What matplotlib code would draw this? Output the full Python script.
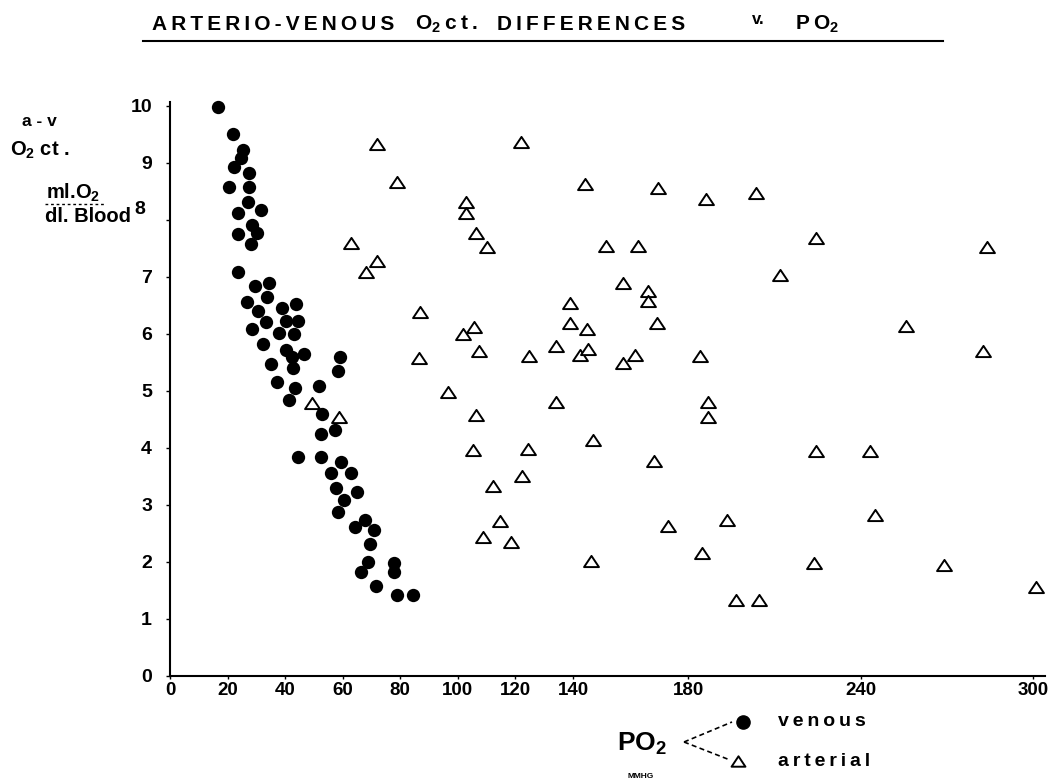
import matplotlib
matplotlib.use('Agg')
import matplotlib.pyplot as plt
from matplotlib.lines import Line2D
from matplotlib.path import Path

# venous PO2 (mmHg) and a-v O2 content difference (ml O2 / dl blood)
venous_po2 = [16.7, 21.9, 25.3, 24.6, 22.2, 27.4, 20.5, 27.4, 27.1, 31.6,
              23.6, 28.5, 30.2, 23.6, 28.1, 23.6, 29.5, 34.4, 33.7, 26.7,
              30.6, 38.9, 43.8, 33.3, 40.3, 44.4, 28.5, 37.8, 43.1, 32.3,
              40.3, 42.4, 46.5, 59.0, 35.1, 42.7, 58.3, 37.2, 43.4, 51.7,
              41.3, 52.8, 57.3, 52.4, 44.4, 52.4, 59.4, 55.9, 62.8, 57.6,
              64.9, 60.4, 58.3, 67.7, 64.2, 70.8, 69.4, 68.8, 77.8, 77.8,
              66.3, 71.5, 78.8, 84.4]
venous_avd = [9.98, 9.51, 9.23, 9.09, 8.93, 8.82, 8.58, 8.58, 8.32, 8.18,
              8.12, 7.91, 7.77, 7.75, 7.58, 7.09, 6.84, 6.89, 6.65, 6.56,
              6.40, 6.46, 6.53, 6.21, 6.23, 6.23, 6.09, 6.02, 6.00, 5.82,
              5.72, 5.60, 5.65, 5.60, 5.47, 5.40, 5.35, 5.16, 5.05, 5.09,
              4.84, 4.60, 4.32, 4.25, 3.84, 3.84, 3.75, 3.56, 3.56, 3.30,
              3.23, 3.09, 2.88, 2.74, 2.61, 2.56, 2.32, 2.00, 1.98, 1.82,
              1.82, 1.58, 1.42, 1.42]

# arterial PO2 (mmHg) and a-v O2 content difference
arterial_po2 = [71.9, 78.8, 62.8, 71.9, 68.1, 86.8, 86.5, 49.3, 58.7, 121.9,
                102.8, 102.8, 144.1, 169.4, 186.1, 203.5, 106.3, 110.1, 151.4, 162.5,
                224.3, 284.0, 211.8, 157.3, 166.0, 166.0, 138.9, 138.9, 169.1, 255.6,
                101.7, 105.6, 144.8, 134.0, 107.3, 124.7, 142.4, 145.1, 161.5, 157.3,
                184.0, 282.3, 96.5, 134.0, 186.8, 186.8, 106.3, 146.9, 124.3, 105.2,
                224.3, 243.1, 168.1, 112.2, 122.2, 114.6, 108.7, 118.4, 172.9, 193.4,
                245.1, 184.7, 146.2, 223.6, 268.8, 196.5, 204.5, 301.0]
arterial_avd = [9.33, 8.67, 7.60, 7.28, 7.09, 6.39, 5.58, 4.79, 4.54, 9.37,
                8.32, 8.12, 8.63, 8.56, 8.37, 8.47, 7.77, 7.53, 7.54, 7.54,
                7.68, 7.53, 7.04, 6.89, 6.75, 6.58, 6.54, 6.19, 6.19, 6.14,
                6.00, 6.12, 6.09, 5.79, 5.70, 5.61, 5.63, 5.74, 5.63, 5.49,
                5.61, 5.70, 4.98, 4.81, 4.81, 4.54, 4.58, 4.14, 3.98, 3.96,
                3.95, 3.95, 3.77, 3.33, 3.51, 2.72, 2.44, 2.35, 2.63, 2.74,
                2.82, 2.16, 2.02, 1.98, 1.95, 1.33, 1.33, 1.56]

x_ticks = [0, 20, 40, 60, 80, 100, 120, 140, 180, 240, 300]
y_ticks = [0, 1, 2, 3, 4, 5, 6, 7, 8, 9, 10]
# the "8" sits next to "dl. Blood" in the original, drawn separately below
y_ticklabels = ['0', '1', '2', '3', '4', '5', '6', '7', '', '9', '10']

plt.rcParams['font.family'] = ['Liberation Sans', 'DejaVu Sans']
plt.rcParams['font.weight'] = 'bold'
plt.rcParams['mathtext.fontset'] = 'custom'
plt.rcParams['mathtext.rm'] = 'Liberation Sans:bold'
plt.rcParams['mathtext.bf'] = 'Liberation Sans:bold'
plt.rcParams['mathtext.default'] = 'bf'

TS = '\u2009'  # thin space for the letter-spaced typewriter look

W, H = 1064, 784
fig = plt.figure(figsize=(W / 100, H / 100), dpi=100)


def fx(x):
    return x / W


def fy(y):
    return 1 - y / H


def spaced(s):
    return TS.join(s)


ax = fig.add_axes([fx(170), fy(676), (1045 - 170) / W, (676 - 102) / H])

# open triangle, a bit wider than tall
tri = Path([(-1, -0.75), (1, -0.75), (0, 0.75), (-1, -0.75)], closed=True)

ax.scatter(venous_po2, venous_avd, s=92, c='black', linewidths=0, clip_on=False)
ax.scatter(arterial_po2, arterial_avd, s=115, marker=tri, facecolors='white',
           edgecolors='black', linewidths=1.4, clip_on=False)

ax.set_xlim(0, 304)
ax.set_ylim(0, 10.07)
for s in ['top', 'right']:
    ax.spines[s].set_visible(False)
for s in ['left', 'bottom']:
    ax.spines[s].set_linewidth(1.5)
ax.set_xticks(x_ticks)
ax.set_yticks(y_ticks)
ax.set_yticklabels(y_ticklabels)
ax.tick_params(axis='y', length=3, width=1, pad=10, labelsize=14)
ax.tick_params(axis='x', length=2, width=1, pad=2, labelsize=13.5)

# title with underline
title_parts = [(spaced("ARTERIO-VENOUS"), 152, 24, 15),
               ("O$_2$" + TS + "c" + TS + "t" + TS + ".", 415, 24, 15),
               (spaced("DIFFERENCES"), 497, 24, 15),
               ("v.", 752, 20, 12),
               ("P" + TS + "O$_2$", 795, 24, 15)]
for txt, x, y, size in title_parts:
    fig.text(fx(x), fy(y), txt, fontsize=size, ha='left', va='center')
fig.add_artist(Line2D([fx(143), fx(943)], [fy(41), fy(41)], color='black',
                      lw=1.5, transform=fig.transFigure))

# y axis label block
fig.text(fx(22), fy(121), "a - v", fontsize=12.5, ha='left', va='center')
fig.text(fx(10), fy(150), "O$_2$ ct .", fontsize=14.5, ha='left', va='center')
fig.text(fx(46), fy(193), "ml.O$_2$", fontsize=14.5, ha='left', va='center')
fig.add_artist(Line2D([fx(45), fx(106)], [fy(204), fy(204)], color='black',
                      lw=1, ls=(0, (2, 2)), transform=fig.transFigure))
fig.text(fx(45), fy(217), "dl. Blood", fontsize=14.5, ha='left', va='center')
fig.text(fx(134), fy(210), "8", fontsize=14, ha='left', va='center')

# x axis label / key
fig.text(fx(617), fy(744), "PO$_2$", fontsize=19, ha='left', va='center')
fig.text(fx(627), fy(777), "MMHG", fontsize=6, ha='left', va='center')
fig.add_artist(Line2D([fx(684), fx(732)], [fy(742), fy(722)], color='black',
                      lw=1.2, ls=(0, (3, 2)), transform=fig.transFigure))
fig.add_artist(Line2D([fx(684), fx(730)], [fy(742), fy(760)], color='black',
                      lw=1.2, ls=(0, (3, 2)), transform=fig.transFigure))
fig.add_artist(Line2D([fx(743)], [fy(722)], marker='o', ms=9.5, color='black',
                      transform=fig.transFigure))
fig.add_artist(Line2D([fx(738)], [fy(761)], marker=tri, ms=10, mfc='white',
                      mec='black', mew=1.4, transform=fig.transFigure))
fig.text(fx(778), fy(721), spaced("venous"), fontsize=14, ha='left', va='center')
fig.text(fx(778), fy(761), spaced("arterial"), fontsize=14, ha='left', va='center')

fig.savefig('out.png', dpi=100)
